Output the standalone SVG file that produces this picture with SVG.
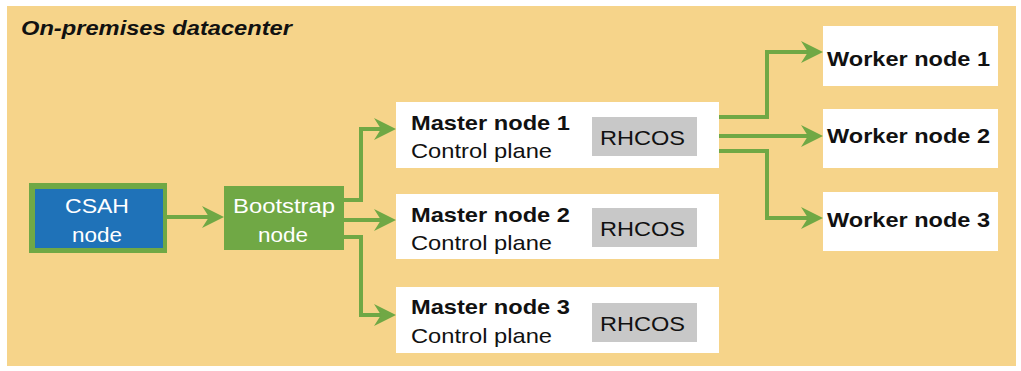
<svg xmlns="http://www.w3.org/2000/svg" width="1021" height="371" viewBox="0 0 1021 371">
  <style>
    .frame { fill: #F6D48A; }
    .box { fill: #FFFFFF; }
    .os { fill: #C8C8C8; }
    .wire { fill: none; stroke: #70A845; stroke-width: 4; stroke-linejoin: miter; }
    .t { font-family: "Liberation Sans", Arial, sans-serif; font-size: 21px; fill: #111111; }
    .b { font-weight: bold; }
    .w { fill: #FFFFFF; }
  </style>
  <defs>
    <marker id="arrow" markerUnits="userSpaceOnUse" markerWidth="24" markerHeight="24" refX="10" refY="11" orient="auto">
      <path d="M0,0 L22,11 L0,22 L7,11 Z" fill="#70A845"/>
    </marker>
  </defs>

  <!-- datacenter frame -->
  <rect class="frame" x="7" y="6" width="1009" height="360"/>
  <text class="t b" x="21" y="35" font-style="italic" textLength="271" lengthAdjust="spacingAndGlyphs">On-premises datacenter</text>

  <!-- connectors -->
  <g id="connectors">
    <path class="wire" d="M167,217 H212" marker-end="url(#arrow)"/>
    <path class="wire" d="M344,200 H361 V129 H384" marker-end="url(#arrow)"/>
    <path class="wire" d="M344,220 H384" marker-end="url(#arrow)"/>
    <path class="wire" d="M344,237 H361 V315 H384" marker-end="url(#arrow)"/>
    <path class="wire" d="M719,117 H767 V52 H811" marker-end="url(#arrow)"/>
    <path class="wire" d="M719,136 H811" marker-end="url(#arrow)"/>
    <path class="wire" d="M719,151 H767 V218 H811" marker-end="url(#arrow)"/>
  </g>

  <g id="csah">
    <rect x="29" y="183" width="138" height="70" fill="#70A845"/>
    <rect x="35" y="189" width="128" height="59" fill="#1F72B8"/>
    <text class="t w" x="65" y="213" textLength="64" lengthAdjust="spacingAndGlyphs">CSAH</text>
    <text class="t w" x="72" y="242" textLength="50" lengthAdjust="spacingAndGlyphs">node</text>
  </g>

  <g id="bootstrap">
    <rect x="224" y="186" width="120" height="64" fill="#70A845"/>
    <text class="t w" x="233" y="213" textLength="102" lengthAdjust="spacingAndGlyphs">Bootstrap</text>
    <text class="t w" x="258" y="242" textLength="50" lengthAdjust="spacingAndGlyphs">node</text>
  </g>

  <g id="master1">
    <rect class="box" x="396" y="102" width="323" height="66"/>
    <text class="t b" x="411" y="130" textLength="159" lengthAdjust="spacingAndGlyphs">Master node 1</text>
    <text class="t" x="411" y="158" textLength="141" lengthAdjust="spacingAndGlyphs">Control plane</text>
    <rect class="os" x="592" y="117" width="105" height="39"/>
    <text class="t" x="600" y="145" textLength="85" lengthAdjust="spacingAndGlyphs">RHCOS</text>
  </g>

  <g id="master2">
    <rect class="box" x="396" y="194" width="323" height="65"/>
    <text class="t b" x="411" y="222" textLength="159" lengthAdjust="spacingAndGlyphs">Master node 2</text>
    <text class="t" x="411" y="250" textLength="141" lengthAdjust="spacingAndGlyphs">Control plane</text>
    <rect class="os" x="592" y="208" width="105" height="39"/>
    <text class="t" x="600" y="236" textLength="85" lengthAdjust="spacingAndGlyphs">RHCOS</text>
  </g>

  <g id="master3">
    <rect class="box" x="396" y="287" width="323" height="66"/>
    <text class="t b" x="411" y="314" textLength="159" lengthAdjust="spacingAndGlyphs">Master node 3</text>
    <text class="t" x="411" y="343" textLength="141" lengthAdjust="spacingAndGlyphs">Control plane</text>
    <rect class="os" x="592" y="303" width="105" height="39"/>
    <text class="t" x="600" y="331" textLength="85" lengthAdjust="spacingAndGlyphs">RHCOS</text>
  </g>

  <g id="worker1">
    <rect class="box" x="823" y="26" width="175" height="60"/>
    <text class="t b" x="827" y="66" textLength="163" lengthAdjust="spacingAndGlyphs">Worker node 1</text>
  </g>

  <g id="worker2">
    <rect class="box" x="823" y="109" width="175" height="59"/>
    <text class="t b" x="827" y="143" textLength="163" lengthAdjust="spacingAndGlyphs">Worker node 2</text>
  </g>

  <g id="worker3">
    <rect class="box" x="823" y="192" width="175" height="59"/>
    <text class="t b" x="827" y="227" textLength="163" lengthAdjust="spacingAndGlyphs">Worker node 3</text>
  </g>
</svg>
